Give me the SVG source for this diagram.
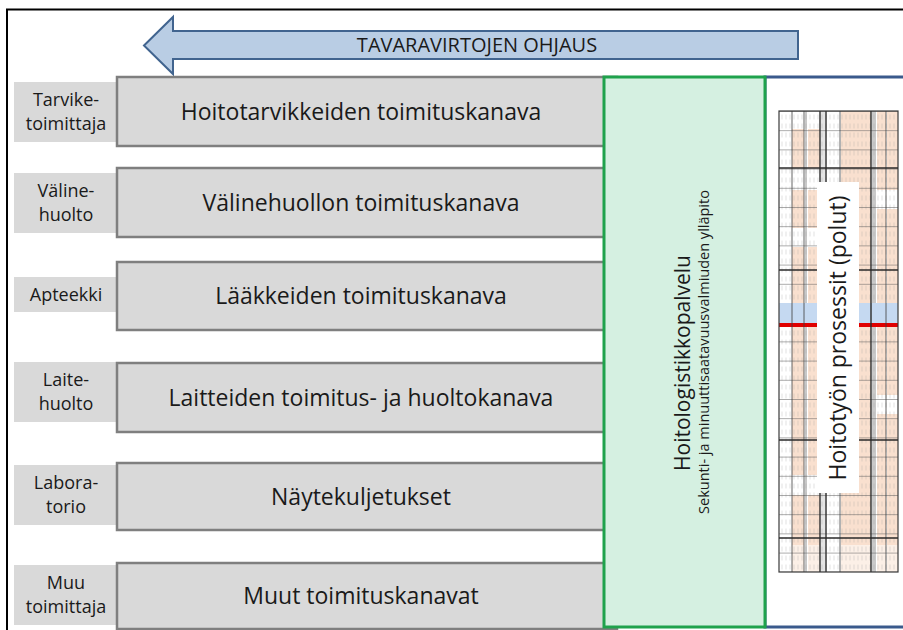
<svg xmlns="http://www.w3.org/2000/svg" width="903" height="630" viewBox="0 0 903 630">
  <defs>
    <style>
      .frame { fill: #ffffff; stroke: #000000; stroke-width: 2; }
      .bar { fill: #d9d9d9; stroke: #7f7f7f; stroke-width: 2.5; }
      .tag { fill: #d9d9d9; }
      .bar-text { font-family: "Open Sans", "Liberation Sans", sans-serif; font-size: 23px; fill: #1a1a1a; text-anchor: middle; }
      .tag-text { font-family: "Open Sans", "Liberation Sans", sans-serif; font-size: 18px; fill: #1a1a1a; text-anchor: middle; }
      .arrow { fill: #b9cde4; stroke: #41648f; stroke-width: 2; stroke-linejoin: miter; }
      .arrow-text { font-family: "Open Sans", "Liberation Sans", sans-serif; font-size: 20px; fill: #1a1a1a; text-anchor: middle; }
      .service { fill: #d5f0e1; stroke: #1fa24c; stroke-width: 3; }
      .process { fill: #ffffff; stroke: #3a5a8c; stroke-width: 3; }
      .v-big { font-family: "Open Sans", "Liberation Sans", sans-serif; font-size: 21px; fill: #1a1a1a; text-anchor: middle; }
      .v-small { font-family: "Open Sans", "Liberation Sans", sans-serif; font-size: 14.5px; fill: #1a1a1a; text-anchor: middle; }
      .v-proc { font-family: "Open Sans", "Liberation Sans", sans-serif; font-size: 23px; fill: #1a1a1a; text-anchor: middle; }
      .peach { fill: #f9e0cf; }
      .rule { stroke: #3c3c3c; stroke-width: 0.8; }
      .rule-heavy { stroke: #2a2a2a; stroke-width: 1.4; }
      .grayband { fill: #c9c9c9; }
    </style>
    <!-- horizontal row lines of the miniature process table -->
    <pattern id="rows" x="0" y="111" width="10" height="19.2" patternUnits="userSpaceOnUse">
      <line x1="0" y1="0.4" x2="10" y2="0.4" stroke="#5a5a5a" stroke-width="0.7"/>
    </pattern>
    <!-- tiny unreadable cell writing -->
    <pattern id="scribble" x="0" y="113" width="4" height="9" patternUnits="userSpaceOnUse">
      <line x1="2" y1="1.5" x2="2" y2="6.5" stroke="#9a9a9a" stroke-width="0.6"/>
    </pattern>
  </defs>

  <!-- outer frame -->
  <rect class="frame" x="7" y="9.5" width="1000" height="700"/>

  <!-- flow-control arrow -->
  <g id="ohjaus">
    <polygon class="arrow" points="144,45.5 173,17 173,31 798,31 798,59 173,59 173,74"/>
    <text class="arrow-text" x="477" y="52">TAVARAVIRTOJEN OHJAUS</text>
  </g>

  <!-- supply channels -->
  <g id="kanava-1">
    <rect class="tag" x="14" y="82" width="103" height="60"/>
    <text class="tag-text" x="66" y="106">Tarvike-</text>
    <text class="tag-text" x="66" y="130">toimittaja</text>
    <rect class="bar" x="117" y="77" width="500" height="69"/>
    <text class="bar-text" x="361" y="119.5">Hoitotarvikkeiden toimituskanava</text>
  </g>
  <g id="kanava-2">
    <rect class="tag" x="14" y="173" width="103" height="60"/>
    <text class="tag-text" x="66" y="197">Väline-</text>
    <text class="tag-text" x="66" y="221">huolto</text>
    <rect class="bar" x="117" y="168" width="500" height="69"/>
    <text class="bar-text" x="361" y="210.5">Välinehuollon toimituskanava</text>
  </g>
  <g id="kanava-3">
    <rect class="tag" x="14" y="277" width="103" height="35"/>
    <text class="tag-text" x="66" y="301">Apteekki</text>
    <rect class="bar" x="117" y="262" width="500" height="68"/>
    <text class="bar-text" x="361" y="304">Lääkkeiden toimituskanava</text>
  </g>
  <g id="kanava-4">
    <rect class="tag" x="14" y="362" width="103" height="60"/>
    <text class="tag-text" x="66" y="386">Laite-</text>
    <text class="tag-text" x="66" y="410">huolto</text>
    <rect class="bar" x="117" y="363" width="500" height="69"/>
    <text class="bar-text" x="361" y="405.5">Laitteiden toimitus- ja huoltokanava</text>
  </g>
  <g id="kanava-5">
    <rect class="tag" x="14" y="465" width="103" height="60"/>
    <text class="tag-text" x="66" y="489">Labora-</text>
    <text class="tag-text" x="66" y="513">torio</text>
    <rect class="bar" x="117" y="463" width="500" height="67"/>
    <text class="bar-text" x="361" y="504.5">Näytekuljetukset</text>
  </g>
  <g id="kanava-6">
    <rect class="tag" x="14" y="565" width="103" height="60"/>
    <text class="tag-text" x="66" y="589">Muu</text>
    <text class="tag-text" x="66" y="613">toimittaja</text>
    <rect class="bar" x="117" y="563" width="500" height="66"/>
    <text class="bar-text" x="361" y="604">Muut toimituskanavat</text>
  </g>

  <!-- care process area with miniature table -->
  <g id="hoitoprosessit">
    <rect class="process" x="765" y="77" width="300" height="550"/>
    <g id="taulukko">
      <rect x="779" y="111" width="119" height="461" fill="#ffffff"/>
      <!-- peach cell columns -->
      <rect class="peach" x="792" y="111" width="12" height="461"/>
      <rect class="peach" x="808" y="111" width="12" height="461"/>
      <rect class="peach" x="841" y="111" width="30" height="461"/>
      <rect class="peach" x="877" y="111" width="9" height="461"/>
      <rect class="peach" x="887" y="111" width="11" height="461"/>
      <!-- blank rows -->
      <rect x="779" y="111" width="48" height="18" fill="#ffffff"/>
      <rect x="779" y="168" width="48" height="22" fill="#ffffff"/>
      <rect x="873" y="190" width="25" height="19" fill="#ffffff"/>
      <rect x="779" y="228" width="41" height="19" fill="#ffffff"/>
      <rect x="779" y="475" width="41" height="20" fill="#ffffff"/>
      <rect x="873" y="395" width="25" height="19" fill="#ffffff"/>
      <rect x="779" y="545" width="119" height="27" fill="#ffffff" opacity="0.5"/>
      <rect x="826" y="111" width="14" height="461" fill="#ffffff"/>
      <!-- gray separator columns -->
      <rect class="grayband" x="805" y="111" width="2" height="461"/>
      <rect class="grayband" x="872" y="111" width="4" height="461"/>
      <rect class="grayband" x="821" y="111" width="4" height="461" opacity="0.5"/>
      <!-- cell writing -->
      <rect x="780" y="112" width="117" height="459" fill="url(#scribble)" opacity="0.5"/>
      <!-- row lines -->
      <rect x="779" y="111" width="119" height="461" fill="url(#rows)" opacity="0.8"/>
      <!-- highlighted band -->
      <rect x="779" y="303" width="119" height="20" fill="#c5d9f1"/>
      <rect x="779" y="323" width="119" height="4" fill="#e00000"/>
      <!-- column lines -->
      <line class="rule" x1="792" y1="111" x2="792" y2="572"/>
      <line class="rule" x1="804" y1="111" x2="804" y2="572"/>
      <line class="rule-heavy" x1="820" y1="111" x2="820" y2="572"/>
      <line class="rule-heavy" x1="826" y1="111" x2="826" y2="572"/>
      <line class="rule" x1="840" y1="111" x2="840" y2="572"/>
      <line class="rule-heavy" x1="871" y1="111" x2="871" y2="572"/>
      <line class="rule" x1="886" y1="111" x2="886" y2="572"/>
      <rect x="779" y="111" width="119" height="461" fill="none" stroke="#3a3a3a" stroke-width="1.2"/>
      <line class="rule-heavy" x1="779" y1="168" x2="898" y2="168"/>
      <line class="rule-heavy" x1="779" y1="270" x2="898" y2="270"/>
      <line class="rule-heavy" x1="779" y1="440" x2="898" y2="440"/>
      <line class="rule-heavy" x1="779" y1="538" x2="898" y2="538"/>
    </g>
    <rect x="817" y="182" width="42" height="311" fill="#ffffff"/>
    <text class="v-proc" transform="translate(846,338) rotate(-90)">Hoitotyön prosessit (polut)</text>
  </g>

  <!-- care logistics service column -->
  <g id="hoitologistikkopalvelu">
    <rect class="service" x="604" y="77" width="161" height="550"/>
    <text class="v-big" transform="translate(690,363) rotate(-90)">Hoitologistikkopalvelu</text>
    <text class="v-small" transform="translate(709,352) rotate(-90)">Sekunti- ja minuuttisaatavuusvalmiuden ylläpito</text>
  </g>
</svg>
